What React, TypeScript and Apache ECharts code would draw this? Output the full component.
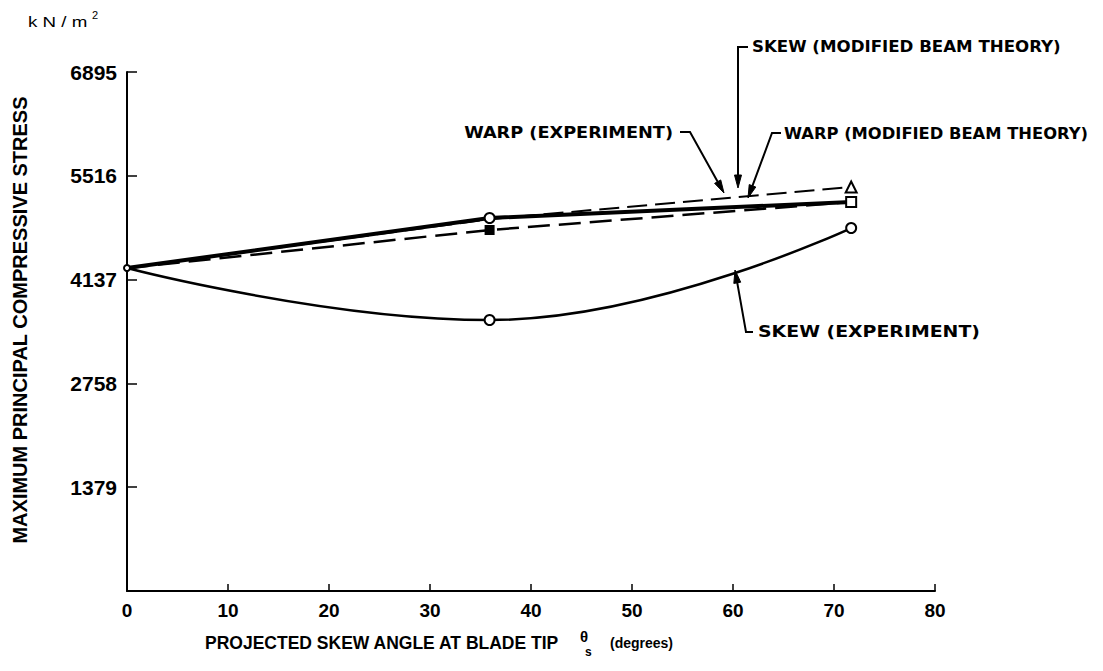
import React, { useEffect, useRef } from "react";
import * as echarts from "echarts";

// ---- data ----
const angles = [0, 35.9, 71.7];
const skewExperiment = [4291, 3600, 4822];
const warpExperiment = [4291, 4955, 5168];
const warpBeamTheory = [4291, 4796, 5168];
const skewBeamTheory = [4291, 4940, 5367];
const yTickValues = [0, 1379, 2758, 4137, 5516, 6895];
const xTickValues = [0, 10, 20, 30, 40, 50, 60, 70, 80];

const FONT = "Liberation Sans";

function pairs(vals: number[]) {
  return angles.map((a, i) => [a, vals[i]]);
}

function arrow(points: number[][], tipLen = 13, halfW = 3.5) {
  const n = points.length;
  const [px, py] = points[n - 2];
  const [tx, ty] = points[n - 1];
  const dx = tx - px;
  const dy = ty - py;
  const L = Math.hypot(dx, dy);
  const ux = dx / L;
  const uy = dy / L;
  const bx = tx - ux * tipLen;
  const by = ty - uy * tipLen;
  const nx = -uy;
  const ny = ux;
  const linePts = points.slice(0, n - 1).concat([[bx + ux * 2, by + uy * 2]]);
  return [
    {
      type: "polyline",
      shape: { points: linePts },
      style: { stroke: "#000", lineWidth: 2, fill: null },
      silent: true,
    },
    {
      type: "polygon",
      shape: {
        points: [
          [tx, ty],
          [bx + nx * halfW, by + ny * halfW],
          [bx - nx * halfW, by - ny * halfW],
        ],
      },
      style: { fill: "#000", stroke: "#000", lineWidth: 1 },
      silent: true,
    },
  ];
}

function label(text: string, x: number, y: number, align: string, scaleX: number) {
  return {
    type: "text",
    x,
    y,
    scaleX,
    style: {
      text,
      fontFamily: "DejaVu Sans",
      fontWeight: "bold",
      fontSize: 15,
      fill: "#000",
      align,
      verticalAlign: "middle",
    },
    silent: true,
  };
}

export default function App() {
  const ref = useRef<HTMLDivElement>(null);
  useEffect(() => {
    if (!ref.current) return;
    const chart = echarts.init(ref.current, null, { renderer: "svg" });
    const option: any = {
      animation: false,
      backgroundColor: "#fff",
      grid: { left: 127, right: 168, top: 72, bottom: 80, containLabel: false },
      xAxis: {
        type: "value",
        min: 0,
        max: 80,
        interval: 10,
        axisLine: { show: true, onZero: false, lineStyle: { color: "#000", width: 2 } },
        axisTick: { show: true, inside: true, length: 7, lineStyle: { color: "#000", width: 1.5 } },
        splitLine: { show: false },
        axisLabel: {
          color: "#000",
          fontFamily: FONT,
          fontWeight: "bold",
          fontSize: 19,
          margin: 10,
          customValues: xTickValues,
        },
      },
      yAxis: {
        type: "value",
        min: 0,
        max: 6895,
        interval: 1379,
        axisLine: { show: true, onZero: false, lineStyle: { color: "#000", width: 2 } },
        axisTick: { show: true, inside: true, length: 10, lineStyle: { color: "#000", width: 1.5 } },
        splitLine: { show: false },
        axisLabel: {
          color: "#000",
          fontFamily: FONT,
          fontWeight: "bold",
          fontSize: 21,
          margin: 10,
          showMinLabel: false,
          formatter: (v: number) => (yTickValues.includes(v) && v !== 0 ? String(v) : ""),
        },
      },
      series: [
        {
          name: "SKEW (MODIFIED BEAM THEORY)",
          type: "line",
          data: pairs(skewBeamTheory).map((p, i) => ({
            value: p,
            symbol: i === 2 ? "triangle" : "none",
          })),
          symbolSize: 11,
          lineStyle: { color: "#000", width: 2, type: [20, 8] },
          itemStyle: { color: "#fff", borderColor: "#000", borderWidth: 2 },
          z: 3,
        },
        {
          name: "WARP (MODIFIED BEAM THEORY)",
          type: "line",
          data: pairs(warpBeamTheory).map((p, i) => ({
            value: p,
            symbol: i === 1 ? "rect" : "none",
            itemStyle: i === 1 ? { color: "#000", borderColor: "#000" } : undefined,
          })),
          symbolSize: 8,
          lineStyle: { color: "#000", width: 2.5, type: [22, 9] },
          itemStyle: { color: "#000", borderColor: "#000", borderWidth: 2 },
          z: 3,
        },
        {
          name: "WARP (EXPERIMENT)",
          type: "line",
          data: pairs(warpExperiment).map((p, i) => ({
            value: p,
            symbol: i === 0 ? "none" : i === 1 ? "circle" : "rect",
          })),
          symbolSize: 10,
          lineStyle: { color: "#000", width: 4 },
          itemStyle: { color: "#fff", borderColor: "#000", borderWidth: 2 },
          z: 4,
        },
        {
          name: "SKEW (EXPERIMENT)",
          type: "line",
          smooth: 0.45,
          data: pairs(skewExperiment).map((p, i) => ({
            value: p,
            symbol: "circle",
            symbolSize: i === 0 ? 6 : 10,
          })),
          lineStyle: { color: "#000", width: 2.5 },
          itemStyle: { color: "#fff", borderColor: "#000", borderWidth: 2 },
          z: 5,
        },
      ],
      graphic: [
        {
          type: "text",
          x: 28,
          y: 22,
          scaleX: 1.25,
          style: {
            text: "k N / m",
            fontFamily: FONT,
            fontSize: 15,
            fill: "#000",
            verticalAlign: "middle",
          },
        },
        {
          type: "text",
          x: 92,
          y: 15,
          style: { text: "2", fontFamily: FONT, fontSize: 11, fill: "#000", verticalAlign: "middle" },
        },
        {
          type: "text",
          x: 20,
          y: 320,
          rotation: Math.PI / 2,
          style: {
            text: "MAXIMUM PRINCIPAL COMPRESSIVE STRESS",
            fontFamily: FONT,
            fontWeight: "bold",
            fontSize: 20,
            fill: "#000",
            align: "center",
            verticalAlign: "middle",
          },
        },
        {
          type: "text",
          x: 205,
          y: 643,
          style: {
            text: "PROJECTED SKEW ANGLE AT BLADE TIP",
            fontFamily: FONT,
            fontWeight: "bold",
            fontSize: 17.5,
            fill: "#000",
            verticalAlign: "middle",
          },
        },
        {
          type: "text",
          x: 580,
          y: 636,
          style: { text: "θ", fontFamily: FONT, fontWeight: "bold", fontSize: 15, fill: "#000", verticalAlign: "middle" },
        },
        {
          type: "text",
          x: 585,
          y: 652,
          style: { text: "s", fontFamily: FONT, fontWeight: "bold", fontSize: 12, fill: "#000", verticalAlign: "middle" },
        },
        {
          type: "text",
          x: 610,
          y: 643,
          style: { text: "(degrees)", fontFamily: FONT, fontWeight: "bold", fontSize: 14, fill: "#000", verticalAlign: "middle" },
        },
        label("SKEW (MODIFIED BEAM THEORY)", 752, 47, "left", 1.11),
        label("WARP (EXPERIMENT)", 673, 133, "right", 1.18),
        label("WARP (MODIFIED BEAM THEORY)", 784, 134, "left", 1.09),
        label("SKEW (EXPERIMENT)", 758, 332, "left", 1.26),
        ...arrow([[748, 47], [738, 47], [738, 188]]),
        ...arrow([[680, 132], [690, 132], [724, 193]]),
        ...arrow([[781, 133], [772, 133], [748, 198]]),
        ...arrow([[753, 332], [746, 332], [735, 270]]),
      ],
    };
    chart.setOption(option);
    return () => chart.dispose();
  }, []);
  return (
    <div
      ref={ref}
      style={{ position: "fixed", left: 0, top: 0, width: 1103, height: 671, background: "#fff" }}
    />
  );
}
